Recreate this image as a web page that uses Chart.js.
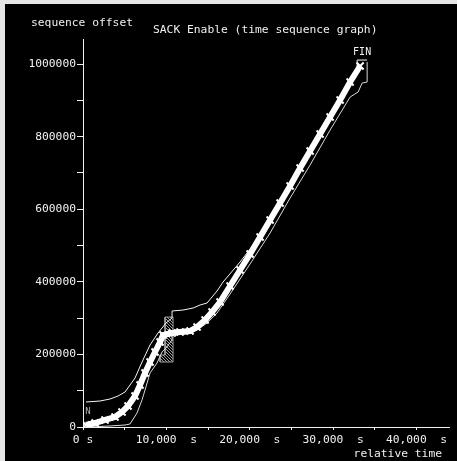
<!DOCTYPE html>
<html>
<head>
<meta charset="utf-8">
<script src="https://cdn.jsdelivr.net/npm/chart.js@4/dist/chart.umd.min.js"></script>
<style>
html,body{margin:0;padding:0;background:#e6e6e6;}
#wrap{position:relative;width:457px;height:461px;}
</style>
</head>
<body>
<div id="wrap"><canvas id="c" width="457" height="461"></canvas></div>
<script>
// ---- data (relative time in s, sequence offset in bytes) ----
const segTime = [360,1440,2640,3840,4680,5400,6240,6840,7440,8040,8640,9240,9600,
  10680,11640,12840,13680,14640,15480,16440,17640,18840,20040,21240,22440,23640,
  24840,26040,27240,28440,29640,30840,32040,33240];
const segSeq = [5500,11000,19300,27500,41300,57900,85400,115700,148800,179100,206600,234200,253500,
  259000,261700,264500,275500,294800,316800,344400,388500,432500,476600,523500,570300,617100,
  664000,713500,760400,807200,854000,900900,950500,994600];

const winTime = [360,2040,3240,4200,5040,5640,6240,7080,8040,9000,9960,10680,10680,12000,13200,
  14040,14880,15480,16080,16800,18840,21240,23640,26040,28440,30840,32880,32880,34080];
const winSeq = [68900,71600,77100,85400,96400,115700,135000,179100,225900,259000,286500,300300,319600,322300,327800,
  336100,341600,358200,374700,399500,454600,526200,608900,702500,798900,892600,989000,1011000,1011000];

const ackTime = [840,3240,5040,5640,6480,7080,7440,8040,8880,9480,9960,10680,10680,12240,13680,14880,
  16080,17640,20040,22440,24840,27240,29640,32040,33000,33480,34080,34080];
const ackSeq = [0,2800,5500,8300,38600,74400,101900,148800,176300,206600,217600,239700,256200,256200,267200,286500,
  314100,366400,449100,534500,630900,721800,818200,909200,923000,947700,950500,1005600];

const sackTime = [9240,10800,10800,9840,9840,9240,9240];
const sackSeq = [179100,179100,303000,303000,198400,198400,179100];

const xTicks = [0,5000,10000,15000,20000,25000,30000,35000,40000];
const xTickLabels = ['0 s','','10,000  s','','20,000  s','','30,000  s','','40,000  s'];
const yTicks = [0,100000,200000,300000,400000,500000,600000,700000,800000,900000,1000000];
const yTickLabels = ['0','','200000','','400000','','600000','','800000','','1000000'];

const labels = { yTitle: 'sequence offset', title: 'SACK Enable (time sequence graph)', xTitle: 'relative time' };
const marks = [ { text: 'N', t: 600, s: 41000, color: '#b0b0b0', size: 9 },
                { text: 'FIN', t: 33480, s: 1033000, color: '#f0f0f0', size: 10 } ];

const pts = (xs, ys) => xs.map((x, i) => ({ x: x, y: ys[i] }));

// hatch pattern for SACK block
const pc = document.createElement('canvas'); pc.width = 3; pc.height = 3;
const pctx = pc.getContext('2d');
pctx.fillStyle = '#000'; pctx.fillRect(0,0,3,3);
pctx.fillStyle = '#9a9a9a'; pctx.fillRect(0,0,1,1); pctx.fillRect(1,1,1,1); pctx.fillRect(2,2,1,1);
const hatch = pctx.createPattern(pc, 'repeat');

const FONT = 'DejaVu Sans Mono';

const bgPlugin = {
  id: 'bg',
  beforeDraw(chart) {
    const ctx = chart.ctx;
    ctx.save();
    ctx.fillStyle = '#e6e6e6'; ctx.fillRect(0, 0, chart.width, chart.height);
    ctx.fillStyle = '#000'; ctx.fillRect(5, 4, chart.width - 5, chart.height - 4);
    ctx.restore();
  },
  afterDraw(chart) {
    const ctx = chart.ctx;
    const xs = chart.scales.x, ys = chart.scales.y;
    ctx.save();
    ctx.fillStyle = '#f0f0f0';
    ctx.font = '11.3px "' + FONT + '"';
    ctx.textBaseline = 'middle';
    ctx.textAlign = 'left';
    ctx.fillText(labels.yTitle, 31, 23);
    ctx.fillText(labels.title, 153, 30);
    ctx.textAlign = 'right';
    ctx.fillText(labels.xTitle, 442, 454);
    ctx.textAlign = 'center';
    marks.forEach(m => {
      ctx.fillStyle = m.color;
      ctx.font = m.size + 'px "' + FONT + '"';
      ctx.fillText(m.text, xs.getPixelForValue(m.t), ys.getPixelForValue(m.s));
    });
    ctx.restore();
  }
};

new Chart(document.getElementById('c'), {
  type: 'scatter',
  data: {
    datasets: [
      { label: 'segments', data: pts(segTime, segSeq), showLine: true, order: 0,
        borderColor: '#ffffff', backgroundColor: '#ffffff', borderWidth: 6,
        pointStyle: 'crossRot', pointRadius: 5, pointBorderWidth: 2, pointBorderColor: '#ffffff' },
      { label: 'window', data: pts(winTime, winSeq), showLine: true, order: 1,
        borderColor: '#f4f4f4', borderWidth: 1, pointRadius: 0 },
      { label: 'ack', data: pts(ackTime, ackSeq), showLine: true, order: 2,
        borderColor: '#d8d8d8', borderWidth: 1, pointRadius: 0 },
      { label: 'sack', data: pts(sackTime, sackSeq), showLine: true, order: 3,
        borderColor: '#a0a0a0', borderWidth: 1, pointRadius: 0, fill: 'shape', backgroundColor: hatch }
    ]
  },
  options: {
    responsive: false,
    animation: false,
    events: [],
    layout: { padding: { top: 39, right: 8, left: 0, bottom: 0 } },
    plugins: { legend: { display: false }, tooltip: { enabled: false } },
    scales: {
      x: {
        type: 'linear', min: 0, max: 43900,
        afterBuildTicks: s => { s.ticks = xTicks.map(v => ({ value: v })); },
        afterFit: s => { s.height = 34; },
        border: { color: '#f0f0f0', width: 1 },
        grid: { display: true, drawOnChartArea: false, drawTicks: true, tickLength: 3, color: '#f0f0f0' },
        ticks: {
          autoSkip: false, maxRotation: 0, minRotation: 0, padding: 3,
          color: '#f0f0f0', font: { family: FONT, size: 11.3 },
          callback: (v, i) => xTickLabels[i]
        }
      },
      y: {
        type: 'linear', min: 0, max: 1069000,
        afterBuildTicks: s => { s.ticks = yTicks.map(v => ({ value: v })); },
        afterFit: s => { s.width = 83; },
        border: { color: '#f0f0f0', width: 1 },
        grid: { display: true, drawOnChartArea: false, drawTicks: true, tickLength: 6, color: '#f0f0f0' },
        ticks: {
          autoSkip: false, padding: 1,
          color: '#f0f0f0', font: { family: FONT, size: 11.3 },
          callback: (v, i) => yTickLabels[i]
        }
      }
    }
  },
  plugins: [bgPlugin]
});
</script>
</body>
</html>
